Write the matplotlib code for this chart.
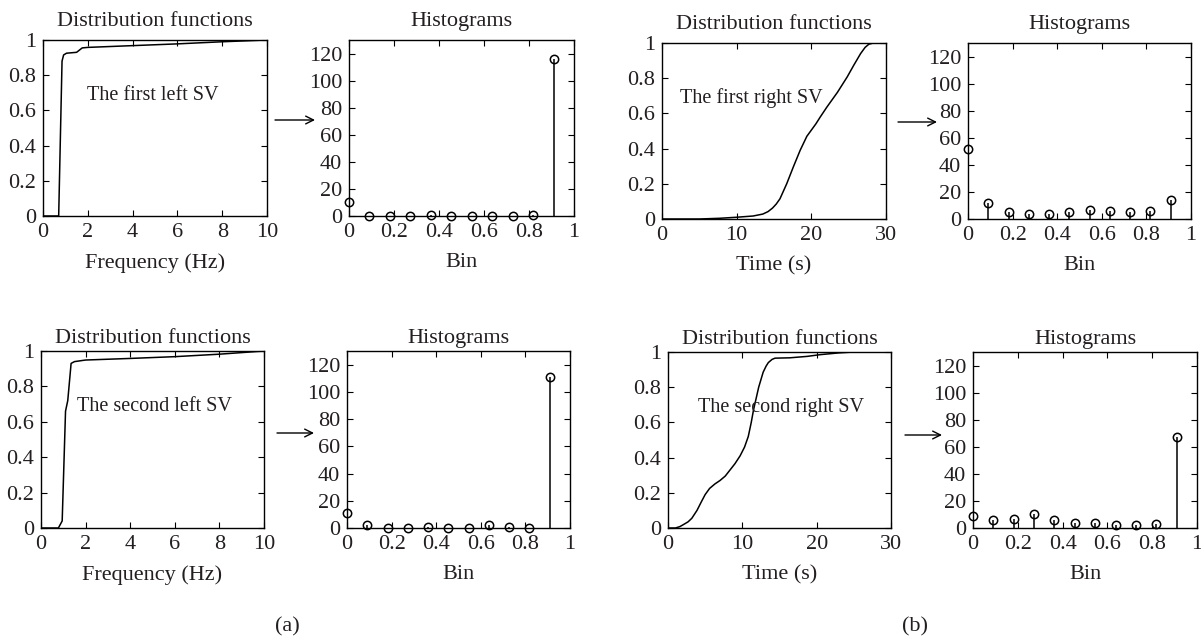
import numpy as np
from matplotlib import pyplot as plt
from matplotlib.ticker import FormatStrFormatter

plt.rcParams['font.family'] = ['Liberation Serif', 'DejaVu Serif']
plt.rcParams['font.size'] = 16
txt = '#231f20'

# distribution functions
f1_x = [0, 0.70, 0.85, 0.92, 1.05, 1.5, 1.6, 1.75, 2.0, 4.0, 6.0, 8.0, 10.0]
f1_y = [0, 0, 0.88, 0.915, 0.925, 0.93, 0.94, 0.955, 0.958, 0.968, 0.978, 0.99, 1.0]

t1_x = [0, 5, 7.7, 10, 12.2, 13.5, 14.2, 14.8, 15.3, 15.8, 16.7, 17.6, 18.5, 19.4, 20.0, 20.6, 21.2, 22.1, 23.5, 24.8, 25.7, 26.6, 27.2, 27.7, 28.3, 30]
t1_y = [0, 0, 0.004, 0.01, 0.017, 0.028, 0.042, 0.062, 0.085, 0.115, 0.2, 0.297, 0.39, 0.47, 0.505, 0.54, 0.58, 0.637, 0.72, 0.807, 0.875, 0.94, 0.975, 0.993, 1.0, 1.0]

f2_x = [0, 0.78, 0.95, 1.1, 1.2, 1.35, 1.5, 2.0, 4.0, 6.0, 8.0, 10.0]
f2_y = [0, 0, 0.04, 0.66, 0.72, 0.93, 0.94, 0.949, 0.958, 0.968, 0.982, 1.0]

t2_x = [0, 1.0, 1.6, 2.1, 2.7, 3.2, 3.9, 4.5, 5.0, 5.6, 6.3, 7.0, 7.7, 8.35, 9.0, 9.7, 10.3, 10.8, 11.2, 11.5, 12.2, 12.8, 13.2, 13.5, 14.0, 14.4, 16.4, 18.7, 20.5, 23.0, 25.0, 30]
t2_y = [0, 0, 0.008, 0.02, 0.035, 0.055, 0.1, 0.15, 0.19, 0.225, 0.25, 0.27, 0.295, 0.33, 0.365, 0.41, 0.46, 0.52, 0.6, 0.67, 0.80, 0.885, 0.92, 0.94, 0.958, 0.965, 0.967, 0.975, 0.985, 0.995, 1.0, 1.0]

# histograms, 11 bins
bins = np.arange(11) / 11.
h1 = [10, 0, 0, 0, 1, 0, 0, 0, 0, 1, 116]
h2 = [52, 12, 5, 4, 4, 5, 7, 6, 5, 6, 14]
h3 = [11, 2, 0, 0, 1, 0, 0, 2, 1, 0, 111]
h4 = [9, 6, 7, 10, 6, 4, 4, 2, 2, 3, 67]

W, H = 1201, 641
fig = plt.figure(figsize=(W/100., H/100.), dpi=100)

def px(l, t, r, b):
	return [l/float(W), 1-b/float(H), (r-l)/float(W), (b-t)/float(H)]

def style(ax):
	ax.tick_params(direction='in', top=True, right=True, length=4, width=0.8,
		colors='black', labelcolor=txt, labelsize=16, pad=5)
	for s in ax.spines.values():
		s.set_linewidth(1.0)

def cdf_ax(pos, x, y, xticks, label, tx, xlabel, tpad):
	ax = fig.add_axes(px(*pos))
	ax.plot(x, y, 'k-', lw=1.1)
	ax.set_xlim(0, xticks[-1])
	ax.set_ylim(0, 1)
	ax.set_xticks(xticks)
	ax.set_yticks([0, 0.2, 0.4, 0.6, 0.8, 1])
	ax.yaxis.set_major_formatter(FormatStrFormatter('%g'))
	ax.set_title('Distribution functions', color=txt, fontsize=16, pad=tpad)
	ax.set_xlabel(xlabel, color=txt, fontsize=16, labelpad=8)
	ax.text(tx, 0.685, label, color=txt, fontsize=14.5, va='center')
	style(ax)
	return ax

def hist_ax(pos, h, tpad):
	ax = fig.add_axes(px(*pos))
	ax.vlines(bins, 0, h, colors='k', lw=1.1)
	ax.plot(bins, h, 'o', mfc='none', mec='k', ms=6, mew=1.1, clip_on=False)
	ax.set_xlim(0, 1)
	ax.set_ylim(0, 130)
	ax.set_yticks([0, 20, 40, 60, 80, 100, 120])
	ax.set_xticks([0, 0.2, 0.4, 0.6, 0.8, 1])
	ax.xaxis.set_major_formatter(FormatStrFormatter('%g'))
	ax.set_title('Histograms', color=txt, fontsize=16, pad=tpad)
	ax.set_xlabel('Bin', color=txt, fontsize=16, labelpad=8)
	style(ax)
	return ax

freq_ticks = [0, 2, 4, 6, 8, 10]
time_ticks = [0, 10, 20, 30]

cdf_ax((43, 40, 267, 216), f1_x, f1_y, freq_ticks, 'The first left SV', 1.95, 'Frequency (Hz)', 10)
hist_ax((349, 40, 574, 216), h1, 10)
cdf_ax((662, 43, 886, 219), t1_x, t1_y, time_ticks, 'The first right SV', 2.4, 'Time (s)', 10)
hist_ax((968, 43, 1191, 219), h2, 10)

cdf_ax((41, 351, 264, 528), f2_x, f2_y, freq_ticks, 'The second left SV', 1.6, 'Frequency (Hz)', 6)
hist_ax((347, 351, 570, 528), h3, 6)
cdf_ax((668, 352, 891, 528), t2_x, t2_y, time_ticks, 'The second right SV', 4.0, 'Time (s)', 6)
hist_ax((973, 352, 1197, 528), h4, 6)

# arrows between panels
for x0, x1, y in [(275, 315, 120), (898, 937, 122), (277, 314, 433), (905, 942, 435)]:
	fig.add_artist(plt.Annotation('', xy=(x1/float(W), 1-y/float(H)), xytext=(x0/float(W), 1-y/float(H)),
		xycoords='figure fraction', textcoords='figure fraction',
		arrowprops=dict(arrowstyle='->', lw=1.0, color='black', shrinkA=0, shrinkB=0, mutation_scale=14)))

fig.text(287/float(W), 1-627/float(H), '(a)', ha='center', va='center', color=txt, fontsize=16)
fig.text(915/float(W), 1-627/float(H), '(b)', ha='center', va='center', color=txt, fontsize=16)

plt.savefig('out.png', dpi=100)
